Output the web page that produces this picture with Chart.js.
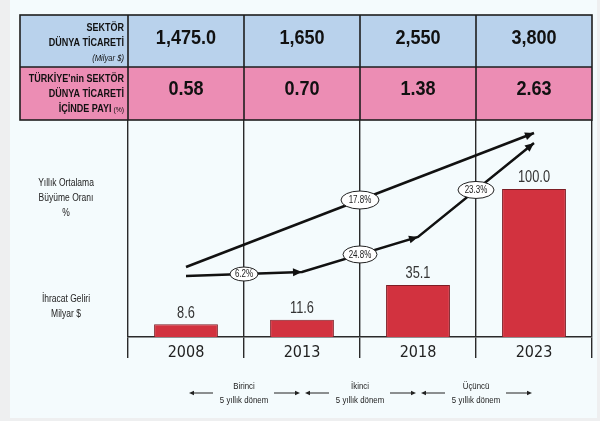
<!DOCTYPE html>
<html>
<head>
<meta charset="utf-8">
<script src="https://cdn.jsdelivr.net/npm/chart.js@4.4.0/dist/chart.umd.min.js"></script>
<style>
  html, body { margin: 0; padding: 0; background: #eef0f1; }
  canvas { display: block; }
</style>
</head>
<body>
<canvas id="exportChart" width="600" height="421"></canvas>
<script>
    // --- DATA ---
    const years = ['2008', '2013', '2018', '2023'];
    const worldTrade = ['1,475.0', '1,650', '2,550', '3,800'];     // Sektör dünya ticareti (Milyar $)
    const turkeyShare = ['0.58', '0.70', '1.38', '2.63'];          // Türkiye'nin payı (%)
    const exportRevenue = [8.6, 11.6, 35.1, 100.0];               // İhracat geliri (Milyar $)

    // growth arrows (positions, same units as the bars)
    const growthPeriods = [41.2, 43.9, 67.6, 131.1];
    const growthOverall = [47.3, null, null, 137.8];
    const periodRates = ['6.2%', '24.8%', '23.3%'];
    const overallRate = '17.8%';

    const periodNames = [
        ['Birinci', '5 yıllık dönem'],
        ['İkinci', '5 yıllık dönem'],
        ['Üçüncü', '5 yıllık dönem']
    ];

    const SANS = '"Liberation Sans", Arial, sans-serif';
    const COND = '"DejaVu Sans Condensed", "Liberation Sans", sans-serif';

    // --- HELPERS ---
    // text squeezed horizontally, to get the narrow look of the original
    function narrowText(ctx, text, x, y, font, sx) {
        ctx.save();
        ctx.font = font;
        ctx.translate(x, y);
        ctx.scale(sx, 1);
        ctx.fillText(text, 0, 0);
        ctx.restore();
    }

    function arrowHead(ctx, x, y, fromX, fromY, len, half) {
        const a = Math.atan2(y - fromY, x - fromX);
        ctx.beginPath();
        ctx.moveTo(x, y);
        ctx.lineTo(x - len * Math.cos(a) + half * Math.sin(a), y - len * Math.sin(a) - half * Math.cos(a));
        ctx.lineTo(x - len * Math.cos(a) - half * Math.sin(a), y - len * Math.sin(a) + half * Math.cos(a));
        ctx.closePath();
        ctx.fill();
    }

    function oval(ctx, x, y, text, w, h) {
        ctx.beginPath();
        ctx.ellipse(x, y, w / 2, h / 2, 0, 0, Math.PI * 2);
        ctx.fillStyle = '#ffffff';
        ctx.fill();
        ctx.lineWidth = 1;
        ctx.strokeStyle = '#222';
        ctx.stroke();
        ctx.fillStyle = '#222';
        ctx.textAlign = 'center';
        ctx.textBaseline = 'middle';
        narrowText(ctx, text, x, y + 0.5, '10px ' + SANS, 0.8);
    }

    // column edges taken from the category scale
    function columnEdges(chart) {
        const x = chart.scales.x;
        const c = years.map((_, i) => x.getPixelForValue(i));
        const edges = [chart.chartArea.left];
        for (let i = 0; i < c.length - 1; i++) edges.push((c[i] + c[i + 1]) / 2);
        edges.push(chart.chartArea.right);
        return { centers: c, edges: edges };
    }

    // --- PLUGINS ---
    const backgroundPlugin = {
        id: 'background',
        beforeDraw(chart) {
            const ctx = chart.ctx;
            ctx.save();
            ctx.fillStyle = '#eeeff0';
            ctx.fillRect(0, 0, chart.width, chart.height);
            ctx.fillStyle = '#f4fbfd';
            ctx.fillRect(10, 0, 587, 418);
            ctx.restore();
        }
    };

    const tablePlugin = {
        id: 'table',
        afterDraw(chart) {
            const ctx = chart.ctx;
            const { centers, edges } = columnEdges(chart);
            const left = 20, right = chart.chartArea.right;
            const top = 15, mid = 67, bottom = chart.chartArea.top;
            ctx.save();
            ctx.fillStyle = '#b9d2ec';
            ctx.fillRect(left, top, right - left, mid - top);
            ctx.fillStyle = '#ec8db4';
            ctx.fillRect(left, mid, right - left, bottom - mid);

            ctx.strokeStyle = '#1e1e1e';
            ctx.lineWidth = 1.6;
            ctx.strokeRect(left, top, right - left, bottom - top);
            ctx.beginPath();
            ctx.moveTo(left, mid); ctx.lineTo(right, mid);
            edges.slice(0, -1).forEach(e => { ctx.moveTo(e, top); ctx.lineTo(e, bottom); });
            ctx.stroke();

            // values
            ctx.fillStyle = '#111';
            ctx.textAlign = 'center';
            ctx.textBaseline = 'middle';
            centers.forEach((c, i) => {
                narrowText(ctx, worldTrade[i], c, 38, 'bold 21px ' + SANS, 0.86);
                narrowText(ctx, turkeyShare[i], c, 89, 'bold 21px ' + SANS, 0.86);
            });

            // row labels
            const rx = edges[0] - 4;
            const B = 'bold 11px ' + SANS, SX = 0.82;
            ctx.textAlign = 'right';
            narrowText(ctx, 'SEKTÖR', rx, 28, B, SX);
            narrowText(ctx, 'DÜNYA TİCARETİ', rx, 43, B, SX);
            narrowText(ctx, '(Milyar $)', rx, 58, 'italic 9px ' + SANS, 0.85);

            narrowText(ctx, "TÜRKİYE'nin SEKTÖR", rx, 79, B, SX);
            narrowText(ctx, 'DÜNYA TİCARETİ', rx, 94, B, SX);
            ctx.font = '8px ' + SANS;
            const pct = '(%)';
            const pw = ctx.measureText(pct).width * 0.85;
            narrowText(ctx, pct, rx, 110, '8px ' + SANS, 0.85);
            narrowText(ctx, 'İÇİNDE PAYI', rx - pw - 2, 109, B, SX);

            // left side captions
            ctx.textAlign = 'center';
            ctx.fillStyle = '#222';
            const C = '10px ' + SANS;
            narrowText(ctx, 'Yıllık Ortalama', 66, 183, C, 0.85);
            narrowText(ctx, 'Büyüme Oranı', 66, 198, C, 0.85);
            narrowText(ctx, '%', 66, 213, C, 0.85);
            narrowText(ctx, 'İhracat Geliri', 66, 299, C, 0.85);
            narrowText(ctx, 'Milyar $', 66, 314, C, 0.85);

            // five year periods below the axis
            ctx.lineWidth = 1;
            ctx.strokeStyle = '#222';
            periodNames.forEach((p, i) => {
                const c = edges[i + 1];
                ctx.fillStyle = '#222';
                narrowText(ctx, p[0], c, 387, '9px ' + SANS, 0.87);
                narrowText(ctx, p[1], c, 401, '9px ' + SANS, 0.87);
                const ay = 393;
                ctx.beginPath();
                ctx.moveTo(c - 31, ay); ctx.lineTo(c - 52, ay);
                ctx.moveTo(c + 30, ay); ctx.lineTo(c + 53, ay);
                ctx.stroke();
                arrowHead(ctx, c - 55, ay, c - 31, ay, 5, 2.2);
                arrowHead(ctx, c + 56, ay, c + 30, ay, 5, 2.2);
            });
            ctx.restore();
        }
    };

    const annotationPlugin = {
        id: 'annotations',
        afterDatasetsDraw(chart) {
            const ctx = chart.ctx;
            ctx.save();
            // bar values
            const bars = chart.getDatasetMeta(0).data;
            ctx.fillStyle = '#333';
            ctx.textAlign = 'center';
            ctx.textBaseline = 'middle';
            bars.forEach((b, i) => narrowText(ctx, exportRevenue[i].toFixed(1), b.x, b.y - 11, '16px ' + SANS, 0.8));

            // arrow heads
            ctx.fillStyle = '#111';
            const p = chart.getDatasetMeta(1).data;
            for (let i = 1; i < p.length; i++) arrowHead(ctx, p[i].x, p[i].y, p[i - 1].x, p[i - 1].y, 9, 4);
            const q = chart.getDatasetMeta(2).data;
            arrowHead(ctx, q[3].x, q[3].y, q[0].x, q[0].y, 9, 4);

            // rate ovals
            const w = [28, 34, 36];
            for (let i = 0; i < p.length - 1; i++) {
                oval(ctx, (p[i].x + p[i + 1].x) / 2, (p[i].y + p[i + 1].y) / 2, periodRates[i], w[i], i === 0 ? 14 : 17);
            }
            oval(ctx, (q[0].x + q[3].x) / 2, (q[0].y + q[3].y) / 2, overallRate, 38, 18);
            ctx.restore();
        }
    };

    // --- CHART ---
    const ctx = document.getElementById('exportChart').getContext('2d');
    new Chart(ctx, {
        data: {
            labels: years,
            datasets: [
                {
                    type: 'bar',
                    label: 'İhracat Geliri',
                    data: exportRevenue,
                    backgroundColor: '#d2323f',
                    borderColor: '#7d1d25',
                    borderWidth: 1,
                    categoryPercentage: 1,
                    barPercentage: 0.55,
                    order: 3
                },
                {
                    type: 'line',
                    label: 'Dönemsel büyüme',
                    data: growthPeriods,
                    borderColor: '#111',
                    borderWidth: 2.5,
                    pointRadius: 0,
                    tension: 0,
                    order: 1
                },
                {
                    type: 'line',
                    label: 'Genel büyüme',
                    data: growthOverall,
                    borderColor: '#111',
                    borderWidth: 2.5,
                    pointRadius: 0,
                    spanGaps: true,
                    tension: 0,
                    order: 2
                }
            ]
        },
        options: {
            responsive: false,
            animation: false,
            devicePixelRatio: 1,
            layout: { padding: { left: 128, right: 8, top: 120, bottom: 0 } },
            scales: {
                x: {
                    offset: true,
                    grid: { offset: true, color: '#2a2a2a', lineWidth: 1.4, tickLength: 21 },
                    border: { color: '#2a2a2a', width: 1.4 },
                    ticks: { color: '#222', font: { size: 16, family: COND }, padding: -15 },
                    afterFit(scale) { scale.height = 84; }
                },
                y: {
                    display: false,
                    min: 0,
                    max: 146.6
                }
            },
            plugins: {
                legend: { display: false },
                tooltip: { enabled: false }
            }
        },
        plugins: [backgroundPlugin, annotationPlugin, tablePlugin]
    });
</script>
</body>
</html>
